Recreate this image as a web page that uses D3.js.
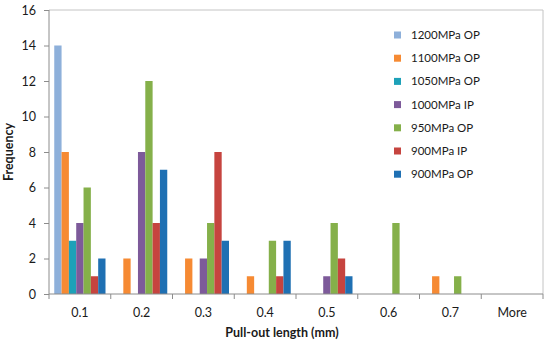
<!DOCTYPE html>
<html lang="en">
<head>
<meta charset="UTF-8">
<title>Pull-out length histogram</title>
<script src="https://d3js.org/d3.v7.min.js"></script>
<style>
    body { margin: 0; background: #fff; }
    text { font-family: Lato, "Open Sans", sans-serif; fill: #1a1a1a; }
    .axis path, .axis line { stroke: #8c8c8c; }
    .axis text { font-size: 12.5px; }
    .legend text { font-size: 11.5px; }
</style>
</head>
<body>
<svg width="550" height="346"></svg>
<script>
    // categories and series
    const categories = ['0.1', '0.2', '0.3', '0.4', '0.5', '0.6', '0.7', 'More'];
    const seriesNames = ['1200MPa OP', '1100MPa OP', '1050MPa OP', '1000MPa IP', '950MPa OP', '900MPa IP', '900MPa OP'];
    const seriesColors = ['#8EB0DA', '#F68A33', '#1DA1B8', '#7D5A9A', '#85B04A', '#C6443F', '#1F70B3'];
    const s1200op = [14, 0, 0, 0, 0, 0, 0, 0];
    const s1100op = [8, 2, 2, 1, 0, 0, 1, 0];
    const s1050op = [3, 0, 0, 0, 0, 0, 0, 0];
    const s1000ip = [4, 8, 2, 0, 1, 0, 0, 0];
    const s950op  = [6, 12, 4, 3, 4, 4, 1, 0];
    const s900ip  = [1, 4, 8, 1, 2, 0, 0, 0];
    const s900op  = [2, 7, 3, 3, 1, 0, 0, 0];
    const yTicks = [0, 2, 4, 6, 8, 10, 12, 14, 16];

    const seriesValues = [s1200op, s1100op, s1050op, s1000ip, s950op, s900ip, s900op];

    const svg = d3.select('svg');
    const plotL = 49, plotR = 543, plotT = 10, plotB = 294;

    const x0 = d3.scaleBand().domain(categories).range([plotL, plotR])
        .paddingInner(0.17).paddingOuter(0.085);
    const x1 = d3.scaleBand().domain(seriesNames).range([0, x0.bandwidth()]);
    const y = d3.scaleLinear().domain([0, 16]).range([plotB, plotT]);

    // plot area border (top and right)
    svg.append('path')
        .attr('d', `M${plotL},${plotT}H${plotR}V${plotB}`)
        .attr('fill', 'none')
        .attr('stroke', '#c4c4c4');

    // bars
    const groups = svg.append('g')
        .selectAll('g')
        .data(seriesNames)
        .join('g')
        .attr('fill', (d, i) => seriesColors[i]);

    groups.selectAll('rect')
        .data((name, i) => categories.map((c, j) => ({ c, name, v: seriesValues[i][j] })).filter(d => d.v > 0))
        .join('rect')
        .attr('x', d => x0(d.c) + x1(d.name))
        .attr('y', d => y(d.v))
        .attr('width', x1.bandwidth())
        .attr('height', d => y(0) - y(d.v));

    // y axis
    const yAxis = svg.append('g')
        .attr('class', 'axis')
        .attr('transform', `translate(${plotL},0)`)
        .call(d3.axisLeft(y).tickValues(yTicks).tickSize(5).tickPadding(8));
    yAxis.select('.domain').attr('d', `M0,${plotT}V${plotB}`);

    // x axis with ticks on category boundaries
    const xAxis = svg.append('g')
        .attr('class', 'axis')
        .attr('transform', `translate(0,${plotB})`);
    xAxis.append('line')
        .attr('x1', plotL).attr('x2', plotR)
        .attr('stroke', '#8c8c8c');
    const step = x0.step();
    xAxis.selectAll('.tk')
        .data(d3.range(categories.length + 1))
        .join('line')
        .attr('class', 'tk')
        .attr('x1', i => plotL + i * step)
        .attr('x2', i => plotL + i * step)
        .attr('y1', 0).attr('y2', 5)
        .attr('stroke', '#8c8c8c');
    xAxis.selectAll('.lbl')
        .data(categories)
        .join('text')
        .attr('class', 'lbl')
        .attr('x', d => x0(d) + x0.bandwidth() / 2)
        .attr('y', 23)
        .attr('text-anchor', 'middle')
        .text(d => d);

    // axis titles
    svg.append('text')
        .attr('x', 282)
        .attr('y', 337)
        .attr('text-anchor', 'middle')
        .style('font-size', '12.5px')
        .style('font-weight', 'bold')
        .text('Pull-out length (mm)');

    svg.append('text')
        .attr('transform', 'translate(13,152) rotate(-90)')
        .attr('text-anchor', 'middle')
        .style('font-size', '12.5px')
        .style('font-weight', 'bold')
        .text('Frequency');

    // legend
    const legend = svg.append('g')
        .attr('class', 'legend')
        .selectAll('g')
        .data(seriesNames)
        .join('g')
        .attr('transform', (d, i) => `translate(394,${35 + i * 23.2})`);
    legend.append('rect')
        .attr('x', 0).attr('y', -3.5)
        .attr('width', 7).attr('height', 7)
        .attr('fill', (d, i) => seriesColors[i]);
    legend.append('text')
        .attr('x', 17)
        .attr('y', 4)
        .text(d => d);
</script>
</body>
</html>
